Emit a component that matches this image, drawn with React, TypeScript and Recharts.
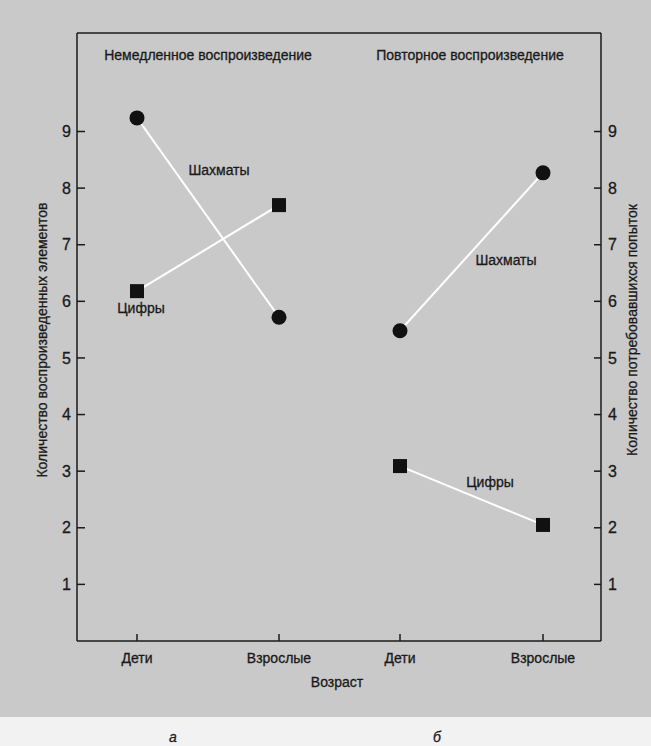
import { LineChart, Line, XAxis, YAxis, ReferenceLine } from 'recharts'

const categories = ['Дети', 'Взрослые']
// немедленное воспроизведение (количество воспроизведенных элементов)
const immediateChess = [9.24, 5.72]
const immediateDigits = [6.18, 7.7]
// повторное воспроизведение (количество потребовавшихся попыток)
const repeatChess = [5.48, 8.27]
const repeatDigits = [3.09, 2.05]
const yTicks = [1, 2, 3, 4, 5, 6, 7, 8, 9]
const Y_MAX = 10.74

const FONT = "'Liberation Sans', Arial, sans-serif"
const INK = '#1a1a1a'

const immediateData = categories.map((age, i) => ({ age, chess: immediateChess[i], digits: immediateDigits[i] }))
const repeatData = categories.map((age, i) => ({ age, chess: repeatChess[i], digits: repeatDigits[i] }))

const circleDot = (p: any) => <circle key={`c${p.index}`} cx={p.cx} cy={p.cy} r={7.5} fill="#111" />
const squareDot = (p: any) => <rect key={`s${p.index}`} x={p.cx - 7} y={p.cy - 7} width={14} height={14} fill="#111" />

const xTick = { fontSize: 14, fill: INK, fontFamily: FONT, stroke: INK, strokeWidth: 0.3 }
const yTick = { fontSize: 16, fill: INK, fontFamily: FONT, stroke: INK, strokeWidth: 0.3 }
const axisLine = { stroke: INK, strokeWidth: 1.5 }

export default function App() {
  return (
    <div style={{ position: 'absolute', left: 0, top: 0, width: 651, height: 746, background: '#f2f2f2', fontFamily: FONT }}>
      <div style={{ position: 'absolute', left: 0, top: 0, width: 651, height: 717, background: '#c9c9c9' }} />

      <div style={{ position: 'absolute', left: 0, top: 0 }}>
        <LineChart width={340} height={700} data={immediateData} margin={{ top: 33, right: 2, bottom: 0, left: 0 }}>
          <XAxis dataKey="age" height={59} padding={{ left: 60, right: 59 }} tick={xTick}
            tickSize={-7} tickMargin={19} axisLine={axisLine} tickLine={axisLine} />
          <YAxis width={77} domain={[0, Y_MAX]} ticks={yTicks} tick={yTick}
            tickSize={-8} tickMargin={14} axisLine={axisLine} tickLine={axisLine} />
          <ReferenceLine y={Y_MAX} stroke={INK} strokeWidth={1.5} />
          <Line dataKey="chess" stroke="#ffffff" strokeWidth={2} dot={circleDot} isAnimationActive={false} />
          <Line dataKey="digits" stroke="#ffffff" strokeWidth={2} dot={squareDot} isAnimationActive={false} />
        </LineChart>
      </div>

      <div style={{ position: 'absolute', left: 338, top: 0 }}>
        <LineChart width={313} height={700} data={repeatData} margin={{ top: 33, right: 0, bottom: 0, left: 0 }}>
          <XAxis dataKey="age" height={59} padding={{ left: 62, right: 58 }} tick={xTick}
            tickSize={-7} tickMargin={19} axisLine={axisLine} tickLine={axisLine} />
          <YAxis yAxisId="div" orientation="left" width={0} domain={[0, Y_MAX]} tick={false} axisLine={axisLine} tickLine={false} />
          <YAxis yAxisId="r" orientation="right" width={50} domain={[0, Y_MAX]} ticks={yTicks} tick={yTick}
            tickSize={-7} tickMargin={14} axisLine={axisLine} tickLine={axisLine} />
          <ReferenceLine yAxisId="r" y={Y_MAX} stroke={INK} strokeWidth={1.5} />
          <Line yAxisId="r" dataKey="chess" stroke="#ffffff" strokeWidth={2} dot={circleDot} isAnimationActive={false} />
          <Line yAxisId="r" dataKey="digits" stroke="#ffffff" strokeWidth={2} dot={squareDot} isAnimationActive={false} />
        </LineChart>
      </div>

      <svg width={651} height={746} style={{ position: 'absolute', left: 0, top: 0, pointerEvents: 'none' }}
        fontFamily={FONT} fill={INK} fontSize={14} stroke={INK} strokeWidth={0.3}>
        <text x={208} y={60} textAnchor="middle">Немедленное воспроизведение</text>
        <text x={470} y={60} textAnchor="middle">Повторное воспроизведение</text>
        <text x={219} y={175} textAnchor="middle">Шахматы</text>
        <text x={141} y={313} textAnchor="middle">Цифры</text>
        <text x={506} y={265} textAnchor="middle">Шахматы</text>
        <text x={490} y={487} textAnchor="middle">Цифры</text>
        <text x={337} y={687} textAnchor="middle">Возраст</text>
        <text transform="translate(47,340) rotate(-90)" textAnchor="middle">Количество воспроизведенных элементов</text>
        <text transform="translate(637,330) rotate(-90)" textAnchor="middle">Количество потребовавшихся попыток</text>
        <text x={173} y={742} textAnchor="middle" fontStyle="italic">а</text>
        <text x={437} y={742} textAnchor="middle" fontStyle="italic">б</text>
      </svg>
    </div>
  )
}
